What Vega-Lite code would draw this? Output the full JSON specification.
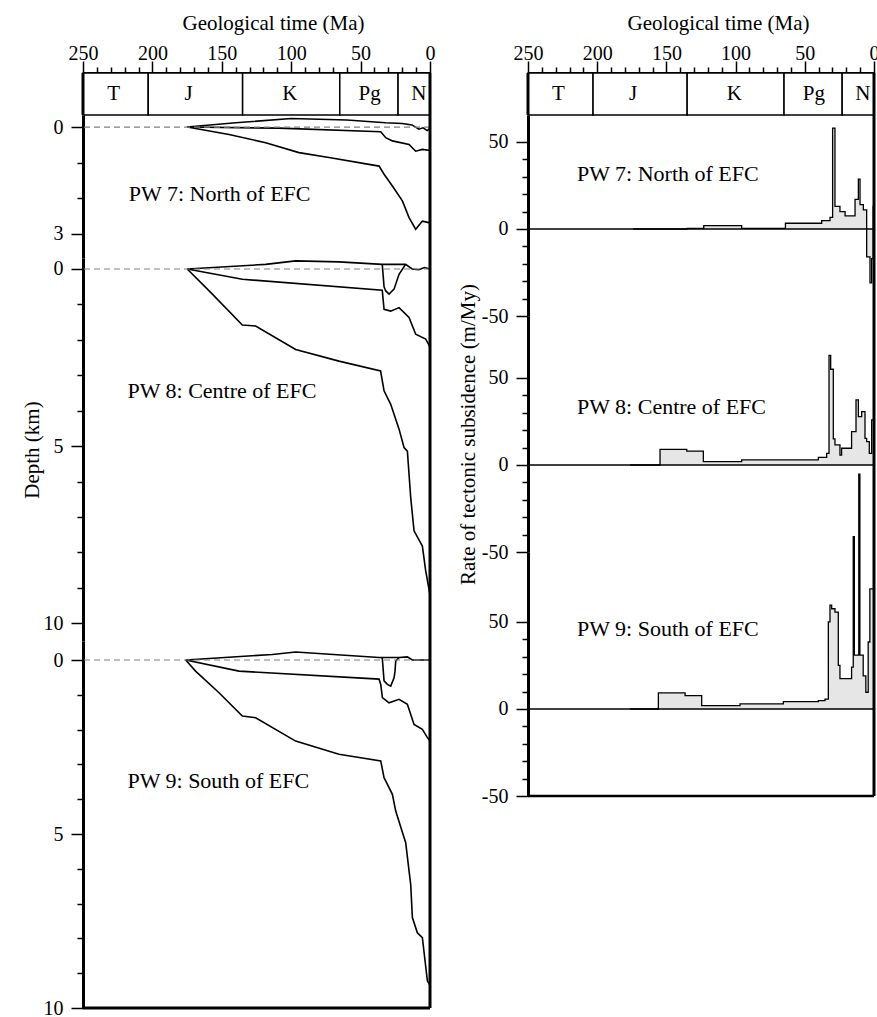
{
 "$schema": "https://vega.github.io/schema/vega-lite/v6.json",
 "background": "white",
 "padding": {"left": 21, "top": 12, "right": 0, "bottom": 0},
 "config": {
  "font": "Liberation Serif",
  "view": {"stroke": null},
  "axis": {"labelFont": "Liberation Serif", "titleFont": "Liberation Serif", "labelFontSize": 20, "titleFontSize": 21, "titleFontWeight": "normal", "labelColor": "black", "titleColor": "black", "domainColor": "black", "tickColor": "black", "grid": false, "domainWidth": 3, "tickWidth": 1.5}
 },
 "datasets": {
  "periods": [
   {"name": "T", "start": 250, "end": 203, "mid": 228},
   {"name": "J", "start": 203, "end": 135, "mid": 174},
   {"name": "K", "start": 135, "end": 65, "mid": 101},
   {"name": "Pg", "start": 65, "end": 23, "mid": 43.5},
   {"name": "N", "start": 23, "end": 0, "mid": 8}
  ],
  "depth": [
   {"p":"PW7","s":"top","Ma":175,"d":0},{"p":"PW7","s":"top","Ma":140,"d":-0.12},{"p":"PW7","s":"top","Ma":100,"d":-0.24},{"p":"PW7","s":"top","Ma":60,"d":-0.2},{"p":"PW7","s":"top","Ma":32,"d":-0.12},{"p":"PW7","s":"top","Ma":20,"d":-0.1},{"p":"PW7","s":"top","Ma":13,"d":-0.06},{"p":"PW7","s":"top","Ma":8,"d":0.06},{"p":"PW7","s":"top","Ma":5,"d":0.02},{"p":"PW7","s":"top","Ma":2,"d":0.1},{"p":"PW7","s":"top","Ma":0,"d":0.04},
   {"p":"PW7","s":"mid","Ma":174.9,"d":0},{"p":"PW7","s":"mid","Ma":109,"d":0.03},{"p":"PW7","s":"mid","Ma":35.5,"d":0.13},{"p":"PW7","s":"mid","Ma":31.9,"d":0.3},{"p":"PW7","s":"mid","Ma":27.1,"d":0.39},{"p":"PW7","s":"mid","Ma":15.1,"d":0.49},{"p":"PW7","s":"mid","Ma":10.3,"d":0.68},{"p":"PW7","s":"mid","Ma":5.5,"d":0.63},{"p":"PW7","s":"mid","Ma":0,"d":0.66},
   {"p":"PW7","s":"base","Ma":174.9,"d":0},{"p":"PW7","s":"base","Ma":144.8,"d":0.21},{"p":"PW7","s":"base","Ma":118.4,"d":0.44},{"p":"PW7","s":"base","Ma":94.4,"d":0.72},{"p":"PW7","s":"base","Ma":72.8,"d":0.86},{"p":"PW7","s":"base","Ma":36.7,"d":1.1},{"p":"PW7","s":"base","Ma":33.1,"d":1.33},{"p":"PW7","s":"base","Ma":27.1,"d":1.66},{"p":"PW7","s":"base","Ma":19.9,"d":2.08},{"p":"PW7","s":"base","Ma":15.1,"d":2.55},{"p":"PW7","s":"base","Ma":10.3,"d":2.88},{"p":"PW7","s":"base","Ma":5.5,"d":2.65},{"p":"PW7","s":"base","Ma":0,"d":2.7},
   {"p":"PW8","s":"top","Ma":174.9,"d":0},{"p":"PW8","s":"top","Ma":118.4,"d":-0.13},{"p":"PW8","s":"top","Ma":96.8,"d":-0.23},{"p":"PW8","s":"top","Ma":65.6,"d":-0.2},{"p":"PW8","s":"top","Ma":34.4,"d":-0.13},{"p":"PW8","s":"top","Ma":17.6,"d":-0.13},{"p":"PW8","s":"top","Ma":12.8,"d":0},{"p":"PW8","s":"top","Ma":8,"d":0.02},{"p":"PW8","s":"top","Ma":4,"d":-0.04},{"p":"PW8","s":"top","Ma":0,"d":0},
   {"p":"PW8","s":"dip","Ma":34.4,"d":-0.13},{"p":"PW8","s":"dip","Ma":33.1,"d":0.5},{"p":"PW8","s":"dip","Ma":31.9,"d":0.62},{"p":"PW8","s":"dip","Ma":29.5,"d":0.71},{"p":"PW8","s":"dip","Ma":25.9,"d":0.57},{"p":"PW8","s":"dip","Ma":22.3,"d":0.15},{"p":"PW8","s":"dip","Ma":17.6,"d":-0.13},
   {"p":"PW8","s":"mid","Ma":174.9,"d":0},{"p":"PW8","s":"mid","Ma":135.2,"d":0.29},{"p":"PW8","s":"mid","Ma":34.4,"d":0.6},{"p":"PW8","s":"mid","Ma":33.1,"d":1.14},{"p":"PW8","s":"mid","Ma":28.3,"d":1.19},{"p":"PW8","s":"mid","Ma":22.3,"d":1.09},{"p":"PW8","s":"mid","Ma":15.1,"d":1.37},{"p":"PW8","s":"mid","Ma":10.3,"d":1.84},{"p":"PW8","s":"mid","Ma":3.1,"d":1.98},{"p":"PW8","s":"mid","Ma":0,"d":2.2},
   {"p":"PW8","s":"base","Ma":174.9,"d":0},{"p":"PW8","s":"base","Ma":156.8,"d":0.71},{"p":"PW8","s":"base","Ma":135.2,"d":1.58},{"p":"PW8","s":"base","Ma":125.6,"d":1.61},{"p":"PW8","s":"base","Ma":96.8,"d":2.27},{"p":"PW8","s":"base","Ma":65.6,"d":2.6},{"p":"PW8","s":"base","Ma":35.6,"d":2.88},{"p":"PW8","s":"base","Ma":33.1,"d":3.44},{"p":"PW8","s":"base","Ma":28.3,"d":3.82},{"p":"PW8","s":"base","Ma":22.3,"d":4.52},{"p":"PW8","s":"base","Ma":18.7,"d":5.04},{"p":"PW8","s":"base","Ma":16.3,"d":5.14},{"p":"PW8","s":"base","Ma":13.9,"d":6.45},{"p":"PW8","s":"base","Ma":11.5,"d":7.39},{"p":"PW8","s":"base","Ma":5.5,"d":7.82},{"p":"PW8","s":"base","Ma":3.1,"d":8.52},{"p":"PW8","s":"base","Ma":0,"d":9.2},
   {"p":"PW9","s":"top","Ma":176,"d":0},{"p":"PW9","s":"top","Ma":113.6,"d":-0.16},{"p":"PW9","s":"top","Ma":96.8,"d":-0.23},{"p":"PW9","s":"top","Ma":36.7,"d":-0.07},{"p":"PW9","s":"top","Ma":22.3,"d":-0.07},{"p":"PW9","s":"top","Ma":16.3,"d":-0.09},{"p":"PW9","s":"top","Ma":12.7,"d":0},{"p":"PW9","s":"top","Ma":0,"d":0},
   {"p":"PW9","s":"dip","Ma":34.4,"d":-0.07},{"p":"PW9","s":"dip","Ma":33.1,"d":0.6},{"p":"PW9","s":"dip","Ma":30.7,"d":0.7},{"p":"PW9","s":"dip","Ma":28.3,"d":0.75},{"p":"PW9","s":"dip","Ma":25.9,"d":0.51},{"p":"PW9","s":"dip","Ma":25.2,"d":0.32},{"p":"PW9","s":"dip","Ma":24.7,"d":0.03},{"p":"PW9","s":"dip","Ma":22.3,"d":-0.07},
   {"p":"PW9","s":"mid","Ma":176,"d":0},{"p":"PW9","s":"mid","Ma":137.6,"d":0.32},{"p":"PW9","s":"mid","Ma":36.7,"d":0.55},{"p":"PW9","s":"mid","Ma":35.5,"d":0.7},{"p":"PW9","s":"mid","Ma":34.3,"d":1.08},{"p":"PW9","s":"mid","Ma":29.5,"d":1.23},{"p":"PW9","s":"mid","Ma":22.3,"d":1.13},{"p":"PW9","s":"mid","Ma":16.3,"d":1.27},{"p":"PW9","s":"mid","Ma":11.5,"d":1.85},{"p":"PW9","s":"mid","Ma":5.5,"d":1.99},{"p":"PW9","s":"mid","Ma":1.9,"d":2.23},{"p":"PW9","s":"mid","Ma":0,"d":2.32},
   {"p":"PW9","s":"base","Ma":176,"d":0},{"p":"PW9","s":"base","Ma":168.9,"d":0.32},{"p":"PW9","s":"base","Ma":152,"d":0.94},{"p":"PW9","s":"base","Ma":135.2,"d":1.61},{"p":"PW9","s":"base","Ma":125.6,"d":1.66},{"p":"PW9","s":"base","Ma":96.8,"d":2.33},{"p":"PW9","s":"base","Ma":65.6,"d":2.71},{"p":"PW9","s":"base","Ma":35.5,"d":2.9},{"p":"PW9","s":"base","Ma":33.1,"d":3.38},{"p":"PW9","s":"base","Ma":27.1,"d":3.86},{"p":"PW9","s":"base","Ma":24.7,"d":4.34},{"p":"PW9","s":"base","Ma":18.7,"d":5.1},{"p":"PW9","s":"base","Ma":17.5,"d":5.25},{"p":"PW9","s":"base","Ma":15.1,"d":6.06},{"p":"PW9","s":"base","Ma":13.9,"d":6.45},{"p":"PW9","s":"base","Ma":12.7,"d":7.4},{"p":"PW9","s":"base","Ma":9.1,"d":7.84},{"p":"PW9","s":"base","Ma":5.5,"d":7.98},{"p":"PW9","s":"base","Ma":1.9,"d":9.22},{"p":"PW9","s":"base","Ma":0,"d":9.35}
  ],
  "rate": [
   {"p":"PW7","Ma":0,"v":27},{"p":"PW7","Ma":0.6,"v":13},{"p":"PW7","Ma":1.7,"v":-17},{"p":"PW7","Ma":2.9,"v":-31},{"p":"PW7","Ma":5.3,"v":-16},{"p":"PW7","Ma":7.7,"v":11},{"p":"PW7","Ma":10.1,"v":14},{"p":"PW7","Ma":11.3,"v":28.7},{"p":"PW7","Ma":13.7,"v":17},{"p":"PW7","Ma":20.9,"v":7.5},{"p":"PW7","Ma":24.6,"v":10},{"p":"PW7","Ma":28.2,"v":13},{"p":"PW7","Ma":29.9,"v":58},{"p":"PW7","Ma":31.8,"v":6.7},{"p":"PW7","Ma":37.8,"v":4.8},{"p":"PW7","Ma":64,"v":3.3},{"p":"PW7","Ma":95.6,"v":0.3},{"p":"PW7","Ma":123,"v":1.9},{"p":"PW7","Ma":135,"v":0.4},{"p":"PW7","Ma":174,"v":0},
   {"p":"PW8","Ma":0,"v":66},{"p":"PW8","Ma":1.7,"v":25.9},{"p":"PW8","Ma":3.4,"v":6.7},{"p":"PW8","Ma":5.3,"v":13.4},{"p":"PW8","Ma":6.5,"v":15.3},{"p":"PW8","Ma":8.9,"v":30.6},{"p":"PW8","Ma":11.3,"v":27.8},{"p":"PW8","Ma":13,"v":37.4},{"p":"PW8","Ma":16.2,"v":19.2},{"p":"PW8","Ma":23.4,"v":9.6},{"p":"PW8","Ma":24.6,"v":5.7},{"p":"PW8","Ma":28.2,"v":11.5},{"p":"PW8","Ma":29.4,"v":15},{"p":"PW8","Ma":31.3,"v":55},{"p":"PW8","Ma":32.5,"v":63},{"p":"PW8","Ma":34.2,"v":6.7},{"p":"PW8","Ma":40.2,"v":4.4},{"p":"PW8","Ma":95.6,"v":2.9},{"p":"PW8","Ma":123.3,"v":1.9},{"p":"PW8","Ma":135.3,"v":8.0},{"p":"PW8","Ma":154.6,"v":9.0},{"p":"PW8","Ma":176.3,"v":0},
   {"p":"PW9","Ma":0,"v":79},{"p":"PW9","Ma":3.0,"v":69},{"p":"PW9","Ma":4.2,"v":38.5},{"p":"PW9","Ma":5.9,"v":9.6},{"p":"PW9","Ma":7.8,"v":19},{"p":"PW9","Ma":10.2,"v":31},{"p":"PW9","Ma":11.0,"v":135},{"p":"PW9","Ma":14.2,"v":31},{"p":"PW9","Ma":15.0,"v":99},{"p":"PW9","Ma":16.2,"v":24},{"p":"PW9","Ma":24.6,"v":17.4},{"p":"PW9","Ma":25.8,"v":25},{"p":"PW9","Ma":28.2,"v":55.7},{"p":"PW9","Ma":30.6,"v":57.6},{"p":"PW9","Ma":31.8,"v":59.6},{"p":"PW9","Ma":33,"v":50},{"p":"PW9","Ma":35.4,"v":5.7},{"p":"PW9","Ma":40.2,"v":4.8},{"p":"PW9","Ma":65.5,"v":4.2},{"p":"PW9","Ma":96.8,"v":2.9},{"p":"PW9","Ma":124.5,"v":1.9},{"p":"PW9","Ma":136.5,"v":7.7},{"p":"PW9","Ma":155.8,"v":9.2},{"p":"PW9","Ma":176.3,"v":0}
  ]
 },
 "spacing": 21,
 "hconcat": [
  {
   "spacing": 0, "bounds": "flush",
   "vconcat": [
    {
     "width": 347, "height": 42,
     "data": {"name": "periods"},
     "layer": [
      {"mark": {"type": "rect", "fill": "white", "stroke": "black", "strokeWidth": 1.5},
       "encoding": {
        "x": {"field": "start", "type": "quantitative", "scale": {"domain": [250, 0], "nice": false, "zero": false},
              "axis": {"orient": "top", "title": "Geological time (Ma)", "values": [250,240,230,220,210,200,190,180,170,160,150,140,130,120,110,100,90,80,70,60,50,40,30,20,10,0], "tickCount": 100, "labelExpr": "datum.value % 50 === 0 ? '' + datum.value : ''", "labelOverlap": false, "labelFlush": false, "labelBound": false, "tickSize": {"condition": {"test": "datum.value % 50 === 0", "value": 12}, "value": 6}, "labelPadding": 2, "labelBaseline": "alphabetic", "titleX": 190, "titleY": -44, "titleBaseline": "alphabetic"}},
        "x2": {"field": "end"}}},
      {"mark": {"type": "text", "fontSize": 21, "baseline": "middle", "color": "black", "font": "Liberation Serif"},
       "encoding": {"x": {"field": "mid", "type": "quantitative"}, "text": {"field": "name"}}},
      {"data": {"values": [{}]}, "mark": {"type": "rule", "strokeWidth": 3, "color": "black"}, "encoding": {"x": {"datum": 250, "type": "quantitative"}}},
      {"data": {"values": [{}]}, "mark": {"type": "rule", "strokeWidth": 3, "color": "black"}, "encoding": {"x": {"datum": 0, "type": "quantitative"}}}
     ]
    },
    {
     "width": 347, "height": 143,
     "layer": [
      {"data": {"name": "depth"}, "transform": [{"filter": "datum.p === 'PW7'"}],
       "mark": {"type": "line", "color": "black", "strokeWidth": 1.6},
       "encoding": {
        "x": {"field": "Ma", "type": "quantitative", "scale": {"domain": [250, 0], "nice": false, "zero": false}, "axis": null},
        "y": {"field": "d", "type": "quantitative", "scale": {"domain": [3.69, -0.34], "nice": false, "zero": false},
              "axis": {"title": null, "values": [0,1,2,3], "tickCount": 100, "labelExpr": "datum.value === 0 || datum.value === 3 ? '' + datum.value : ''", "labelOverlap": false, "labelFlush": false, "labelBound": false, "tickSize": {"condition": {"test": "datum.value === 0 || datum.value === 3", "value": 12}, "value": 6}, "labelPadding": 8}},
        "detail": {"field": "s"}}},
      {"data": {"values": [{}]}, "mark": {"type": "rule", "color": "#808080", "strokeDash": [6, 4], "strokeWidth": 1.2}, "encoding": {"y": {"datum": 0, "type": "quantitative"}}},
      {"data": {"values": [{}]}, "mark": {"type": "text", "align": "left", "baseline": "middle", "fontSize": 22, "font": "Liberation Serif", "color": "black"}, "encoding": {"x": {"datum": 217, "type": "quantitative", "axis": null}, "y": {"datum": 1.89, "type": "quantitative"}, "text": {"value": "PW 7: North of EFC"}}},
      {"data": {"values": [{}]}, "mark": {"type": "rule", "strokeWidth": 3, "color": "black"}, "encoding": {"x": {"datum": 0, "type": "quantitative", "axis": null}}}
     ]
    },
    {
     "width": 347, "height": 383,
     "layer": [
      {"data": {"name": "depth"}, "transform": [{"filter": "datum.p === 'PW8'"}],
       "mark": {"type": "line", "color": "black", "strokeWidth": 1.6},
       "encoding": {
        "x": {"field": "Ma", "type": "quantitative", "scale": {"domain": [250, 0], "nice": false, "zero": false}, "axis": null},
        "y": {"field": "d", "type": "quantitative", "scale": {"domain": [10.5, -0.31], "nice": false, "zero": false},
              "axis": {"title": "Depth (km)", "titleX": -51, "titleBaseline": "middle", "values": [0,1,2,3,4,5,6,7,8,9,10], "tickCount": 100, "labelExpr": "datum.value % 5 === 0 ? '' + datum.value : ''", "labelOverlap": false, "labelFlush": false, "labelBound": false, "tickSize": {"condition": {"test": "datum.value % 5 === 0", "value": 12}, "value": 6}, "labelPadding": 8}},
        "detail": {"field": "s"}}},
      {"data": {"values": [{}]}, "mark": {"type": "rule", "color": "#808080", "strokeDash": [6, 4], "strokeWidth": 1.2}, "encoding": {"y": {"datum": 0, "type": "quantitative"}}},
      {"data": {"values": [{}]}, "mark": {"type": "text", "align": "left", "baseline": "middle", "fontSize": 22, "font": "Liberation Serif", "color": "black"}, "encoding": {"x": {"datum": 218, "type": "quantitative", "axis": null}, "y": {"datum": 3.45, "type": "quantitative"}, "text": {"value": "PW 8: Centre of EFC"}}},
      {"data": {"values": [{}]}, "mark": {"type": "rule", "strokeWidth": 3, "color": "black"}, "encoding": {"x": {"datum": 0, "type": "quantitative", "axis": null}}}
     ]
    },
    {
     "width": 347, "height": 367,
     "layer": [
      {"data": {"name": "depth"}, "transform": [{"filter": "datum.p === 'PW9'"}],
       "mark": {"type": "line", "color": "black", "strokeWidth": 1.6},
       "encoding": {
        "x": {"field": "Ma", "type": "quantitative", "scale": {"domain": [250, 0], "nice": false, "zero": false}, "axis": null},
        "y": {"field": "d", "type": "quantitative", "scale": {"domain": [10, -0.546], "nice": false, "zero": false},
              "axis": {"title": null, "values": [0,1,2,3,4,5,6,7,8,9,10], "tickCount": 100, "labelExpr": "datum.value % 5 === 0 ? '' + datum.value : ''", "labelOverlap": false, "labelFlush": false, "labelBound": false, "tickSize": {"condition": {"test": "datum.value % 5 === 0", "value": 12}, "value": 6}, "labelPadding": 8}},
        "detail": {"field": "s"}}},
      {"data": {"values": [{}]}, "mark": {"type": "rule", "color": "#808080", "strokeDash": [6, 4], "strokeWidth": 1.2}, "encoding": {"y": {"datum": 0, "type": "quantitative"}}},
      {"data": {"values": [{}]}, "mark": {"type": "text", "align": "left", "baseline": "middle", "fontSize": 22, "font": "Liberation Serif", "color": "black"}, "encoding": {"x": {"datum": 218, "type": "quantitative", "axis": null}, "y": {"datum": 3.48, "type": "quantitative"}, "text": {"value": "PW 9: South of EFC"}}},
      {"data": {"values": [{}]}, "mark": {"type": "rule", "strokeWidth": 3, "color": "black"}, "encoding": {"x": {"datum": 0, "type": "quantitative", "axis": null}}},
      {"data": {"values": [{}]}, "mark": {"type": "rule", "strokeWidth": 3, "color": "black"}, "encoding": {"y": {"datum": 10, "type": "quantitative"}}}
     ]
    }
   ]
  },
  {
   "spacing": 0, "bounds": "flush",
   "vconcat": [
    {
     "width": 346, "height": 42,
     "data": {"name": "periods"},
     "layer": [
      {"mark": {"type": "rect", "fill": "white", "stroke": "black", "strokeWidth": 1.5},
       "encoding": {
        "x": {"field": "start", "type": "quantitative", "scale": {"domain": [250, 0], "nice": false, "zero": false},
              "axis": {"orient": "top", "title": "Geological time (Ma)", "values": [250,240,230,220,210,200,190,180,170,160,150,140,130,120,110,100,90,80,70,60,50,40,30,20,10,0], "tickCount": 100, "labelExpr": "datum.value % 50 === 0 ? '' + datum.value : ''", "labelOverlap": false, "labelFlush": false, "labelBound": false, "tickSize": {"condition": {"test": "datum.value % 50 === 0", "value": 12}, "value": 6}, "labelPadding": 2, "labelBaseline": "alphabetic", "titleX": 190, "titleY": -44, "titleBaseline": "alphabetic"}},
        "x2": {"field": "end"}}},
      {"mark": {"type": "text", "fontSize": 21, "baseline": "middle", "color": "black", "font": "Liberation Serif"},
       "encoding": {"x": {"field": "mid", "type": "quantitative"}, "text": {"field": "name"}}},
      {"data": {"values": [{}]}, "mark": {"type": "rule", "strokeWidth": 3, "color": "black"}, "encoding": {"x": {"datum": 250, "type": "quantitative"}}},
      {"data": {"values": [{}]}, "mark": {"type": "rule", "strokeWidth": 3, "color": "black"}, "encoding": {"x": {"datum": 0, "type": "quantitative"}}}
     ]
    },
    {
     "width": 346, "height": 201,
     "layer": [
      {"data": {"name": "rate"}, "transform": [{"filter": "datum.p === 'PW7'"}],
       "mark": {"type": "area", "interpolate": "step-after", "color": "#e6e6e6"},
       "encoding": {
        "x": {"field": "Ma", "type": "quantitative", "scale": {"domain": [250, 0], "nice": false, "zero": false}, "axis": null},
        "y": {"field": "v", "type": "quantitative", "stack": null, "scale": {"domain": [-50, 65.5], "nice": false, "zero": false},
              "axis": {"title": null, "values": [-50,-40,-30,-20,-10,0,10,20,30,40,50], "tickCount": 100, "labelExpr": "datum.value % 50 === 0 ? (datum.value < 0 ? '-' + abs(datum.value) : '' + datum.value) : ''", "labelOverlap": false, "labelFlush": false, "labelBound": false, "tickSize": {"condition": {"test": "datum.value % 50 === 0", "value": 12}, "value": 6}, "labelPadding": 8}}}},
      {"data": {"name": "rate"}, "transform": [{"filter": "datum.p === 'PW7'"}],
       "mark": {"type": "line", "interpolate": "step-after", "color": "black", "strokeWidth": 1.3},
       "encoding": {"x": {"field": "Ma", "type": "quantitative", "axis": null}, "y": {"field": "v", "type": "quantitative"}}},
      {"data": {"values": [{}]}, "mark": {"type": "rule", "color": "black", "strokeWidth": 1.5}, "encoding": {"y": {"datum": 0, "type": "quantitative"}}},
      {"data": {"values": [{}]}, "mark": {"type": "text", "align": "left", "baseline": "middle", "fontSize": 22, "font": "Liberation Serif", "color": "black"}, "encoding": {"x": {"datum": 214.6, "type": "quantitative", "axis": null}, "y": {"datum": 31.6, "type": "quantitative"}, "text": {"value": "PW 7: North of EFC"}}},
      {"data": {"values": [{}]}, "mark": {"type": "rule", "strokeWidth": 3, "color": "black"}, "encoding": {"x": {"datum": 0, "type": "quantitative", "axis": null}}}
     ]
    },
    {
     "width": 346, "height": 236,
     "layer": [
      {"data": {"name": "rate"}, "transform": [{"filter": "datum.p === 'PW8'"}],
       "mark": {"type": "area", "interpolate": "step-after", "color": "#e6e6e6"},
       "encoding": {
        "x": {"field": "Ma", "type": "quantitative", "scale": {"domain": [250, 0], "nice": false, "zero": false}, "axis": null},
        "y": {"field": "v", "type": "quantitative", "stack": null, "scale": {"domain": [-50, 85.6], "nice": false, "zero": false},
              "axis": {"title": "Rate of tectonic subsidence (m/My)", "titleX": -60, "titleBaseline": "middle", "values": [-50,-40,-30,-20,-10,0,10,20,30,40,50], "tickCount": 100, "labelExpr": "datum.value % 50 === 0 ? (datum.value < 0 ? '-' + abs(datum.value) : '' + datum.value) : ''", "labelOverlap": false, "labelFlush": false, "labelBound": false, "tickSize": {"condition": {"test": "datum.value % 50 === 0", "value": 12}, "value": 6}, "labelPadding": 8}}}},
      {"data": {"name": "rate"}, "transform": [{"filter": "datum.p === 'PW8'"}],
       "mark": {"type": "line", "interpolate": "step-after", "color": "black", "strokeWidth": 1.3},
       "encoding": {"x": {"field": "Ma", "type": "quantitative", "axis": null}, "y": {"field": "v", "type": "quantitative"}}},
      {"data": {"values": [{}]}, "mark": {"type": "rule", "color": "black", "strokeWidth": 1.5}, "encoding": {"y": {"datum": 0, "type": "quantitative"}}},
      {"data": {"values": [{}]}, "mark": {"type": "text", "align": "left", "baseline": "middle", "fontSize": 22, "font": "Liberation Serif", "color": "black"}, "encoding": {"x": {"datum": 214.6, "type": "quantitative", "axis": null}, "y": {"datum": 33.3, "type": "quantitative"}, "text": {"value": "PW 8: Centre of EFC"}}},
      {"data": {"values": [{}]}, "mark": {"type": "rule", "strokeWidth": 3, "color": "black"}, "encoding": {"x": {"datum": 0, "type": "quantitative", "axis": null}}}
     ]
    },
    {
     "width": 346, "height": 244,
     "layer": [
      {"data": {"name": "rate"}, "transform": [{"filter": "datum.p === 'PW9'"}],
       "mark": {"type": "area", "interpolate": "step-after", "color": "#e6e6e6"},
       "encoding": {
        "x": {"field": "Ma", "type": "quantitative", "scale": {"domain": [250, 0], "nice": false, "zero": false}, "axis": null},
        "y": {"field": "v", "type": "quantitative", "stack": null, "scale": {"domain": [-50, 90.2], "nice": false, "zero": false},
              "axis": {"title": null, "values": [-50,-40,-30,-20,-10,0,10,20,30,40,50], "tickCount": 100, "labelExpr": "datum.value % 50 === 0 ? (datum.value < 0 ? '-' + abs(datum.value) : '' + datum.value) : ''", "labelOverlap": false, "labelFlush": false, "labelBound": false, "tickSize": {"condition": {"test": "datum.value % 50 === 0", "value": 12}, "value": 6}, "labelPadding": 8}}}},
      {"data": {"name": "rate"}, "transform": [{"filter": "datum.p === 'PW9'"}],
       "mark": {"type": "line", "interpolate": "step-after", "color": "black", "strokeWidth": 1.3},
       "encoding": {"x": {"field": "Ma", "type": "quantitative", "axis": null}, "y": {"field": "v", "type": "quantitative"}}},
      {"data": {"values": [{}]}, "mark": {"type": "rule", "color": "black", "strokeWidth": 1.5}, "encoding": {"y": {"datum": 0, "type": "quantitative"}}},
      {"data": {"values": [{}]}, "mark": {"type": "text", "align": "left", "baseline": "middle", "fontSize": 22, "font": "Liberation Serif", "color": "black"}, "encoding": {"x": {"datum": 214.6, "type": "quantitative", "axis": null}, "y": {"datum": 46, "type": "quantitative"}, "text": {"value": "PW 9: South of EFC"}}},
      {"data": {"values": [{}]}, "mark": {"type": "rule", "strokeWidth": 3, "color": "black"}, "encoding": {"x": {"datum": 0, "type": "quantitative", "axis": null}}},
      {"data": {"values": [{}]}, "mark": {"type": "rule", "strokeWidth": 2.5, "color": "black"}, "encoding": {"y": {"datum": -50, "type": "quantitative"}}}
     ]
    }
   ]
  }
 ]
}
